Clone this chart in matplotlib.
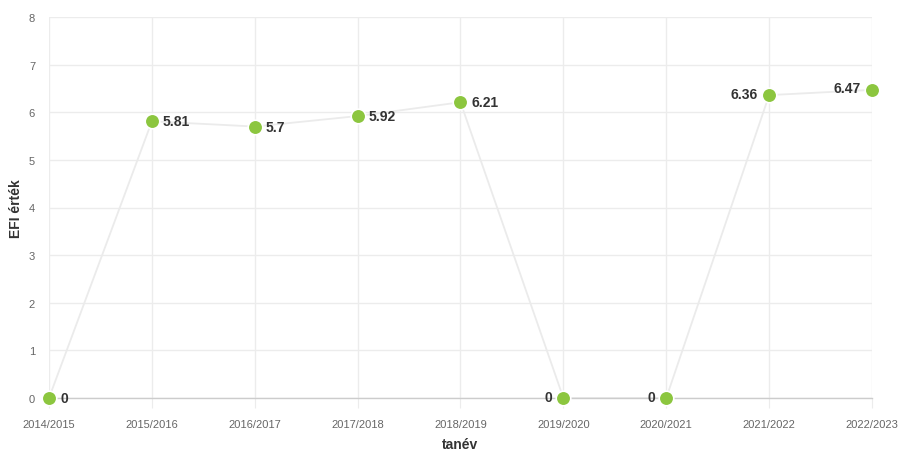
import matplotlib
matplotlib.use("Agg")
import matplotlib.pyplot as plt

plt.rcParams['font.family'] = ['Liberation Sans', 'DejaVu Sans']

categories = ["2014/2015", "2015/2016", "2016/2017", "2017/2018", "2018/2019",
              "2019/2020", "2020/2021", "2021/2022", "2022/2023"]
values = [0, 5.81, 5.7, 5.92, 6.21, 0, 0, 6.36, 6.47]
label_texts = ["0", "5.81", "5.7", "5.92", "6.21", "0", "0", "6.36", "6.47"]
label_side = ["right", "right", "right", "right", "right", "left", "left", "left", "left"]

fig = plt.figure(figsize=(8.99, 4.52), dpi=100)
ax = fig.add_axes([49/899, 1-399/452, (872-49)/899, (399-18)/452])

x = list(range(len(categories)))
ax.plot(x, values, color="#ebebeb", linewidth=1.3, zorder=2, clip_on=False)
ax.plot(x, values, linestyle="none", marker="o", markersize=10.5,
        markerfacecolor="#8cc63f", markeredgecolor="white", markeredgewidth=1.2,
        zorder=3, clip_on=False)

for xi, v, t, side in zip(x, values, label_texts, label_side):
    if side == "right":
        ax.annotate(t, (xi, v), xytext=(8, 0), textcoords="offset points",
                    ha="left", va="center", fontsize=10, fontweight="bold",
                    color="#333333", zorder=4)
    else:
        ax.annotate(t, (xi, v), xytext=(-8, 1), textcoords="offset points",
                    ha="right", va="center", fontsize=10, fontweight="bold",
                    color="#333333", zorder=4)

ax.set_xlim(0, len(categories) - 1)
ax.set_ylim(0, 8)
ax.set_xticks(x)
ax.set_xticklabels(categories)
ax.set_yticks(range(0, 9))

ax.grid(True, color="#ececec", linewidth=1)
ax.set_axisbelow(True)
for s in ["top", "right", "left"]:
    ax.spines[s].set_visible(False)
ax.spines["bottom"].set_color("#cccccc")
ax.spines["bottom"].set_linewidth(1)

ax.tick_params(axis="x", length=7, color="#ececec", labelsize=8,
               labelcolor="#666666", pad=8)
ax.tick_params(axis="y", length=0, labelsize=8, labelcolor="#666666", pad=10)

ax.set_xlabel("tanév", fontsize=10, fontweight="bold", color="#333333", labelpad=6)
ax.set_ylabel("EFI érték", fontsize=10, fontweight="bold", color="#333333", labelpad=4)

fig.savefig("out.png", dpi=100)
